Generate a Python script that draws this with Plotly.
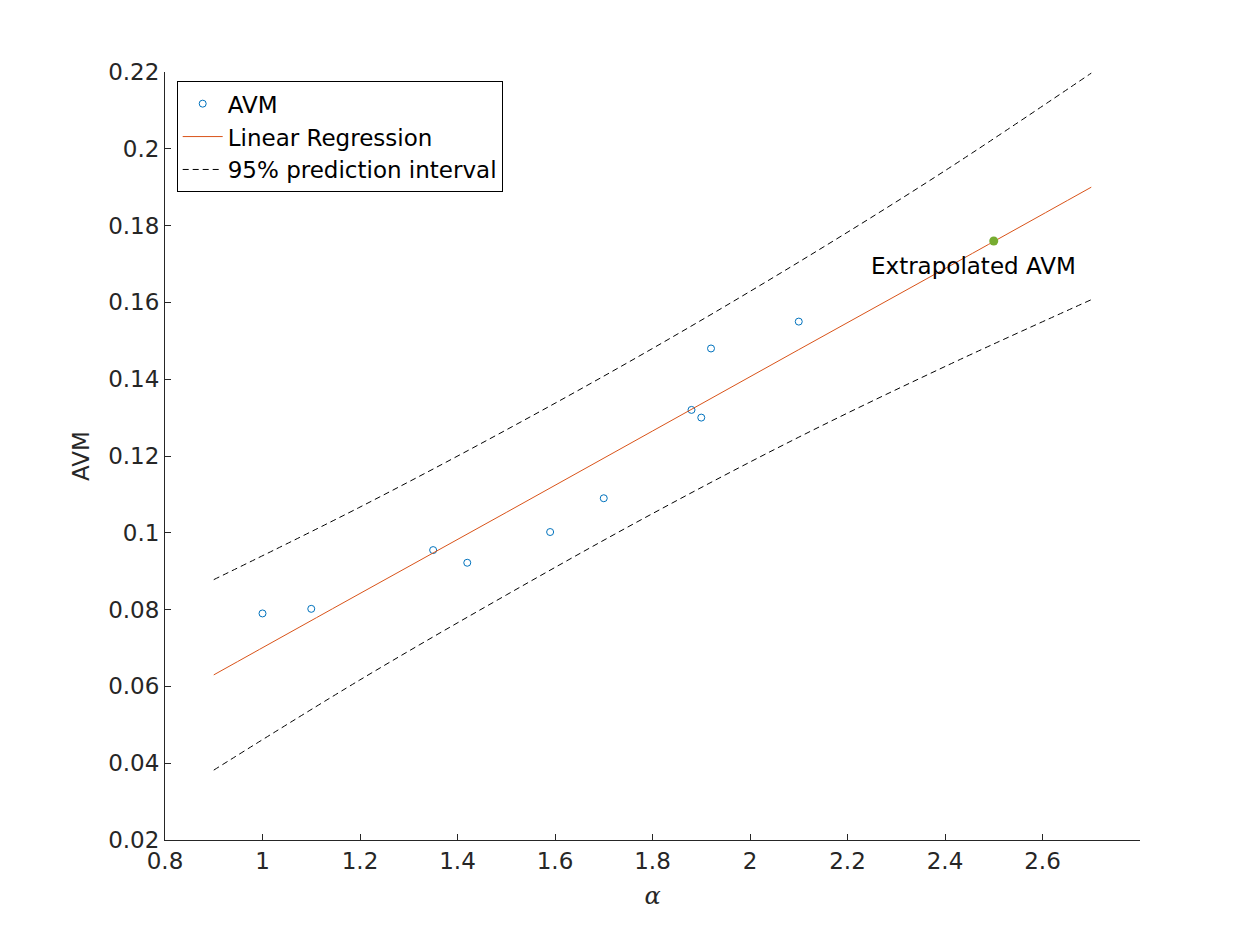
import plotly.graph_objects as go

# Measured AVM values
alpha = [1.0, 1.1, 1.35, 1.42, 1.59, 1.70, 1.88, 1.90, 1.92, 2.10]
avm = [0.079, 0.0802, 0.0955, 0.0922, 0.1002, 0.109, 0.132, 0.130, 0.148, 0.155]

# Regression line and 95% prediction interval
fit_x = [0.9, 1.2, 1.5, 1.8, 2.1, 2.4, 2.7]
fit_y = [0.063, 0.0842, 0.1053, 0.1265, 0.1477, 0.1688, 0.190]
upper = [0.0878, 0.1067, 0.1268, 0.1480, 0.1705, 0.1943, 0.2197]
lower = [0.0382, 0.0617, 0.0838, 0.1050, 0.1249, 0.1433, 0.1607]

extrap_x = [2.5]
extrap_y = [0.176]

font = dict(family='DejaVu Sans', size=23, color='#262626')

fig = go.Figure()
fig.add_trace(go.Scatter(x=alpha, y=avm, mode='markers', name='AVM',
                         marker=dict(symbol='circle-open', size=7, color='#0072BD', line=dict(width=1))))
fig.add_trace(go.Scatter(x=fit_x, y=fit_y, mode='lines', name='Linear Regression',
                         line=dict(color='#D95319', width=1), line_shape='spline'))
fig.add_trace(go.Scatter(x=fit_x, y=upper, mode='lines', name='95% prediction interval',
                         line=dict(color='black', width=1, dash='6px,4px'), line_shape='spline'))
fig.add_trace(go.Scatter(x=fit_x, y=lower, mode='lines', showlegend=False,
                         line=dict(color='black', width=1, dash='6px,4px'), line_shape='spline'))
fig.add_trace(go.Scatter(x=extrap_x, y=extrap_y, mode='markers', showlegend=False,
                         marker=dict(size=9, color='#77AC30')))

fig.add_annotation(x=2.245, y=0.1695, text='Extrapolated AVM', showarrow=False,
                   xanchor='left', font=dict(family='DejaVu Sans', size=23, color='black'))

axis = dict(showline=True, linecolor='#262626', linewidth=1, ticks='inside', ticklen=6,
            tickcolor='#262626', showgrid=False, zeroline=False, tickfont=font, mirror=False)
fig.update_xaxes(range=[0.8, 2.8], tickvals=[0.8, 1, 1.2, 1.4, 1.6, 1.8, 2, 2.2, 2.4, 2.6],
                 ticktext=['0.8', '1', '1.2', '1.4', '1.6', '1.8', '2', '2.2', '2.4', '2.6'],
                 title=dict(text='<i>α</i>', font=dict(family='DejaVu Serif', size=24, color='#262626'), standoff=14),
                 **axis)
fig.update_yaxes(range=[0.02, 0.22], tickvals=[0.02 * i for i in range(1, 12)],
                 ticktext=['0.02', '0.04', '0.06', '0.08', '0.1', '0.12', '0.14', '0.16', '0.18', '0.2', '0.22'],
                 title=dict(text='AVM', font=font, standoff=12), **axis)

fig.update_layout(
    width=1260, height=945,
    margin=dict(l=157, r=128, t=64, b=113),
    plot_bgcolor='white', paper_bgcolor='white',
    font=font,
    legend=dict(x=0.012, y=0.988, xanchor='left', yanchor='top', bordercolor='black', borderwidth=1,
                bgcolor='white', font=dict(family='DejaVu Sans', size=23, color='black'),
                tracegroupgap=0, itemwidth=40),
)

fig.write_html("out.html")
